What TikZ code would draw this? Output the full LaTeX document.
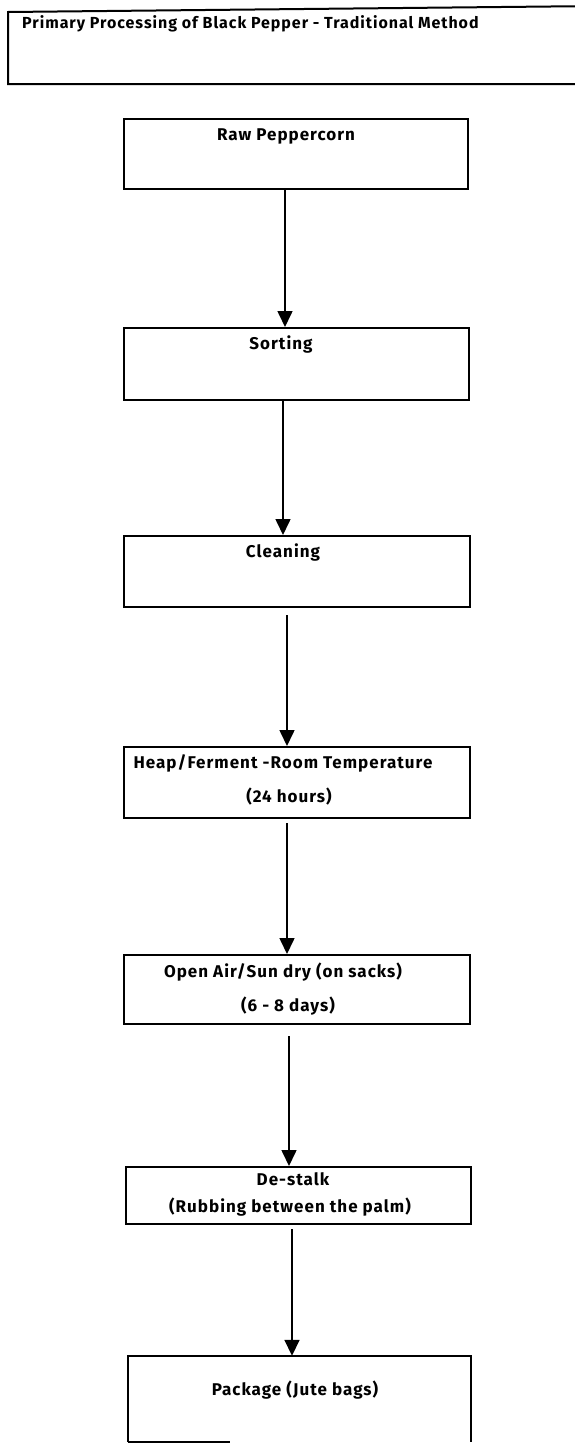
\documentclass[tikz,border=0pt]{standalone}
\usepackage{fontspec}
\setmainfont{Fira Sans}
\newfontfamily\cfont{Fira Sans}[LetterSpace=6]
\usetikzlibrary{arrows.meta,fit}
\begin{document}
\begin{tikzpicture}[x=1pt,y=-1pt,
  box/.style={draw=black, line width=2pt, inner sep=0pt},
  frame/.style={draw=black, line width=2pt},
  txt/.style={font=\cfont\bfseries\fontsize{17}{20}\selectfont, anchor=base, inner sep=0pt},
  ttl/.style={font=\cfont\bfseries\fontsize{16}{19}\selectfont, anchor=base west, inner sep=0pt},
  arr/.style={line width=1.6pt, -{Triangle[length=16pt,width=15pt]}}]
\useasboundingbox (0,0) rectangle (575,1443);
\clip (0,0) rectangle (575,1443);
% title
\node[ttl] (title) at (22,28) {Primary Processing of Black Pepper - Traditional Method};
\draw[frame] (600,6) -- (8,12) -- (8,84) -- (600,84);
% boxes
\node[box, fit={(124,119) (468,189)}] (b1) {};
\node[box, fit={(124,328) (469,400)}] (b2) {};
\node[box, fit={(124,536) (470,607)}] (b3) {};
\node[box, fit={(124,747) (470,818)}] (b4) {};
\node[box, fit={(124,955) (470,1024)}] (b5) {};
\node[box, fit={(126,1167) (471,1224)}] (b6) {};
\node[inner sep=0pt, fit={(128,1356) (471,1442)}] (b7) {};
\draw[frame] (b7.south west) -- (b7.north west) -- (b7.north east) -- (b7.south east);
\draw[frame] (b7.south west) -- ++(102,0);
% texts
\node[txt] (t1) at (286,140) {Raw Peppercorn};
\node[txt] (t2) at (281,349) {Sorting};
\node[txt] (t3) at (283,557) {Cleaning};
\node[txt] (t4a) at (283,768) {Heap/Ferment -Room Temperature};
\node[txt] (t4b) at (289,802) {(24 hours)};
\node[txt] (t5a) at (283,977) {Open Air/Sun dry (on sacks)};
\node[txt] (t5b) at (288,1011) {(6 - 8 days)};
\node[txt] (t6a) at (293,1185) {De-stalk};
\node[txt] (t6b) at (290,1212) {(Rubbing between the palm)};
\node[txt] (t7) at (295,1395) {Package (Jute bags)};
% arrows
\draw[arr] ([xshift=-11pt]b1.south) -- ([xshift=-11.5pt]b2.north);
\draw[arr] ([xshift=-13.5pt]b2.south) -- ([xshift=-14pt]b3.north);
\draw[arr] ([shift={(-10,7)}]b3.south) -- ([xshift=-10pt]b4.north);
\draw[arr] ([shift={(-10,4)}]b4.south) -- ([xshift=-10pt]b5.north);
\draw[arr] ([shift={(-8,11)}]b5.south) -- ([xshift=-9.5pt]b6.north);
\draw[arr] ([shift={(-6.5,4)}]b6.south) -- ([xshift=-7.5pt]b7.north);
\end{tikzpicture}
\end{document}
